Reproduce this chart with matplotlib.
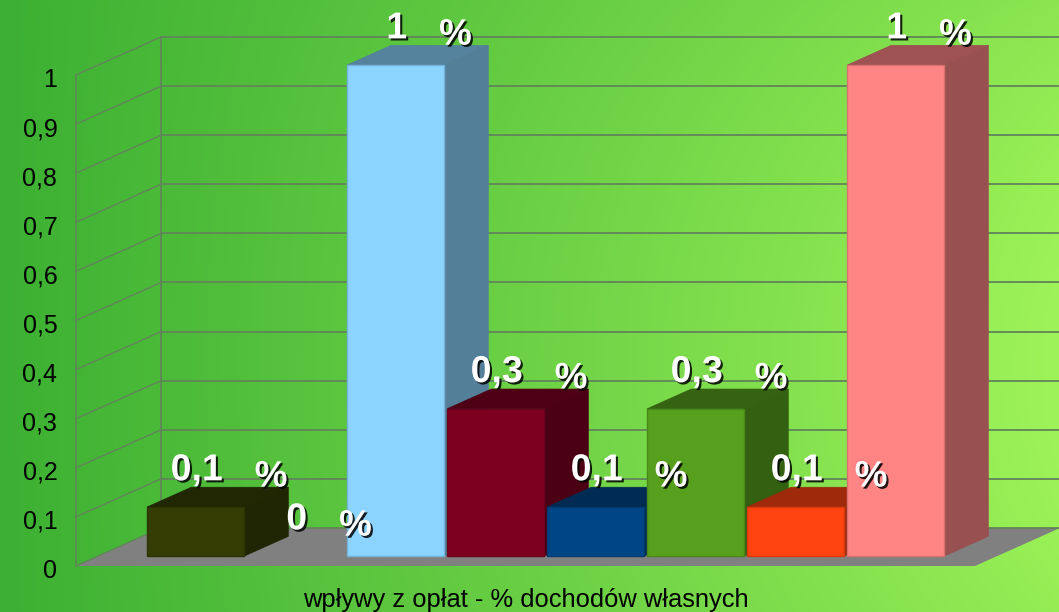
import numpy as np
import matplotlib
matplotlib.use("Agg")
import matplotlib.pyplot as plt
from matplotlib.patches import Polygon
import matplotlib.patheffects as pe
from matplotlib.colors import to_rgb

# dane z wykresu
wartosci = [0.1, 0.0, 1.0, 0.3, 0.1, 0.3, 0.1, 1.0]
etykiety = ["0,1", "0", "1", "0,3", "0,1", "0,3", "0,1", "1"]
kolory = ["#353d05", "#9999ff", "#8ad4ff", "#7e0021",
          "#004586", "#57a01d", "#ff4411", "#ff8585"]
ticki = [0, 0.1, 0.2, 0.3, 0.4, 0.5, 0.6, 0.7, 0.8, 0.9, 1.0]
ticki_txt = ["0", "0,1", "0,2", "0,3", "0,4", "0,5", "0,6", "0,7", "0,8", "0,9", "1"]
tytul_osi = "wpływy z opłat - % dochodów własnych"

plt.rcParams["font.family"] = ["Liberation Sans", "DejaVu Sans"]

# rzut ukosny: glebokosc przesuwa w prawo i w gore
DDX = 0.85
DDY = 38 / 491
X0, X1 = -0.975, 8.015        # podloga (przod)
D0, D1 = 0.26, 0.78           # glebokosc slupkow
SZER = 0.97

fig = plt.figure(figsize=(10.59, 6.12), dpi=100)
ax = fig.add_axes([0, 0, 1, 1])
xlim = (-1.735, 8.855)
ylim = (-0.0937, 1.1527)
ax.set_xlim(*xlim)
ax.set_ylim(*ylim)
ax.axis("off")

# tlo - gradient zielony
u = np.linspace(0, 1, 400)[None, :]
w = np.linspace(1, 0, 240)[:, None]
t = np.clip(u - 0.55 * (w - 0.4) ** 2 * u, 0, 1)
c_l = np.array([60, 176, 51]) / 255
c_r = np.array([158, 243, 88]) / 255
grad = c_l[None, None, :] + (c_r - c_l)[None, None, :] * t[..., None]
ax.imshow(grad, extent=(xlim[0], xlim[1], ylim[0], ylim[1]), aspect="auto", zorder=0)

siatka = "#62845a"

# podloga
ax.add_patch(Polygon([(X0, 0), (X1, 0), (X1 + DDX, DDY), (X0 + DDX, DDY)],
                     closed=True, facecolor="#808080", edgecolor="none", zorder=1))

# linie siatki: sciana tylna i lewa
for v in ticki:
    ax.plot([X0 + DDX, X1 + DDX], [v + DDY, v + DDY], color=siatka, lw=1.3, zorder=1.5)
    ax.plot([X0, X0 + DDX], [v, v + DDY], color=siatka, lw=1.0, zorder=1.5)
ax.plot([X0, X0], [0, 1], color=siatka, lw=1.1, zorder=1.5)
ax.plot([X0 + DDX, X0 + DDX], [DDY, 1 + DDY], color=siatka, lw=1.3, zorder=1.5)

# opisy osi Y
for v, s in zip(ticki, ticki_txt):
    ax.annotate(s, xy=(X0, v), xytext=(-13.5, -8.6), textcoords="offset points",
                ha="right", va="baseline", fontsize=18, color="black", zorder=5)

# slupki 3D
dd = DDX * (D1 - D0)
for i, (v, k) in enumerate(zip(wartosci, kolory)):
    if v <= 0:
        continue
    front = np.array(to_rgb(k))
    ciemny = front * 0.6
    xl = i - SZER / 2 + DDX * D0
    xr = i + SZER / 2 + DDX * D0
    yb0 = DDY * D0
    yt0 = v + DDY * D0
    yb1 = DDY * D1
    yt1 = v + DDY * D1
    z = 2 + i * 0.1
    ax.add_patch(Polygon([(xr, yb0), (xr, yt0), (xr + dd, yt1), (xr + dd, yb1)],
                         closed=True, facecolor=ciemny, edgecolor=ciemny, lw=0.5, zorder=z))
    ax.add_patch(Polygon([(xl, yt0), (xr, yt0), (xr + dd, yt1), (xl + dd, yt1)],
                         closed=True, facecolor=ciemny * 1.03, edgecolor=ciemny, lw=0.5, zorder=z))
    ax.add_patch(Polygon([(xl, yb0), (xr, yb0), (xr, yt0), (xl, yt0)],
                         closed=True, facecolor=front, edgecolor=front * 0.85, lw=1.0, zorder=z + 0.01))

# etykiety wartosci
cien = [pe.SimplePatchShadow(offset=(1.5, -1.5), shadow_rgbFace="black", alpha=0.85), pe.Normal()]
dm = (D0 + D1) / 2
for i, (v, s) in enumerate(zip(wartosci, etykiety)):
    num = ax.annotate(s, xy=(i + DDX * dm, v + DDY * D1), xytext=(-15.1, 5.0),
                      textcoords="offset points", ha="center", va="baseline",
                      fontsize=27, fontweight="bold", color="white", zorder=10)
    num.set_path_effects(cien)
    pr = ax.annotate("%", xy=(1, 0), xycoords=num, xytext=(23.0, -4.5),
                     textcoords="offset points", ha="left", va="bottom",
                     fontsize=26.5, fontweight="bold", color="white", zorder=10)
    pr.set_path_effects(cien)

# tytul osi X
fig.text((X0 + X1) / 2 / (xlim[1] - xlim[0]) + (-xlim[0]) / (xlim[1] - xlim[0]), 1 - 607 / 612,
         tytul_osi, ha="center", va="baseline", fontsize=18.4, color="black")

fig.savefig("out.png", dpi=100)
